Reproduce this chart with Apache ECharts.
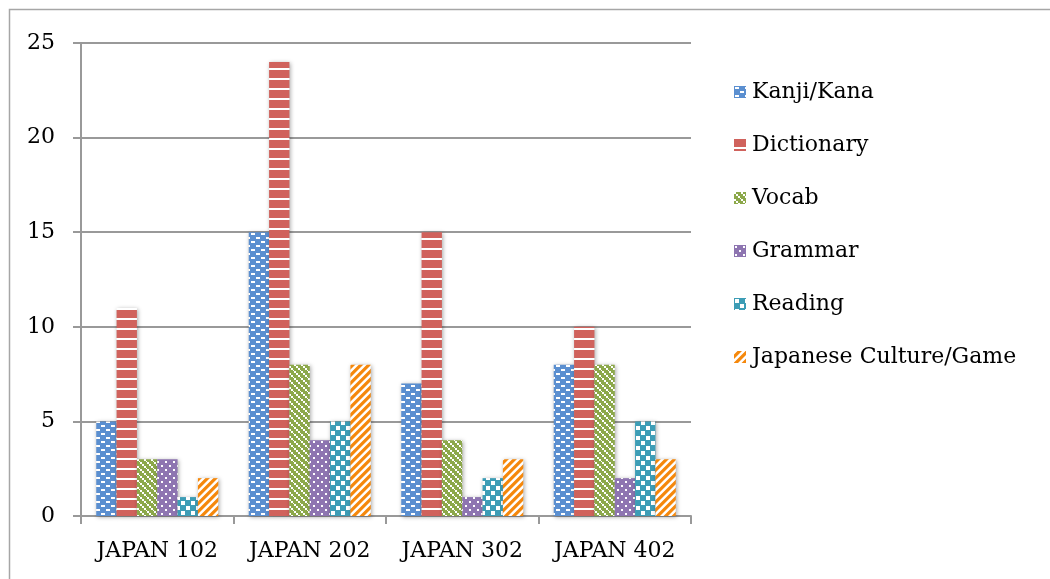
<!DOCTYPE html>
<html>
<head>
<meta charset="utf-8">
<script src="https://cdn.jsdelivr.net/npm/echarts@6/dist/echarts.min.js"></script>
<style>html,body{margin:0;padding:0;background:#fff}#c{width:1050px;height:579px}</style>
</head>
<body>
<div id="c"></div>
<script>
const categories = ['JAPAN 102', 'JAPAN 202', 'JAPAN 302', 'JAPAN 402'];
const seriesNames = ['Kanji/Kana', 'Dictionary', 'Vocab', 'Grammar', 'Reading', 'Japanese Culture/Game'];
const kanjiKana = [5, 15, 7, 8];
const dictionary = [11, 24, 15, 10];
const vocab = [3, 8, 4, 8];
const grammar = [3, 4, 1, 2];
const reading = [1, 5, 2, 5];
const culture = [2, 8, 3, 3];
const yTicks = [0, 5, 10, 15, 20, 25];

const FONT = 'DejaVu Serif';

function tile(w, h, bg, draw) {
  const c = document.createElement('canvas');
  c.width = w; c.height = h;
  const g = c.getContext('2d');
  g.fillStyle = bg; g.fillRect(0, 0, w, h);
  g.fillStyle = '#ffffff';
  draw(g, w, h);
  return { image: c, repeat: 'repeat' };
}
const patterns = [
  tile(10, 8, '#5b8fd0', g => { g.fillRect(1, 1, 4, 2); g.fillRect(6, 5, 4, 2); g.fillRect(-4, 5, 4, 2); }),
  tile(10, 10, '#d0625c', g => { g.fillRect(0, 8, 10, 2); }),
  tile(7, 7, '#8ca84a', g => { g.fillRect(0, 0, 2, 2); g.fillRect(2, 2, 2, 2); g.fillRect(4, 4, 2, 2); g.fillRect(6, 6, 1, 1); }),
  tile(8, 8, '#8e75b1', g => { g.fillRect(1, 1, 2, 2); g.fillRect(5, 5, 2, 2); }),
  tile(10, 10, '#3d9db6', g => { g.fillRect(1, 1, 4, 4); g.fillRect(6, 6, 4, 4); }),
  tile(8, 8, '#f5880c', g => {
    g.beginPath();
    for (let k = -1; k <= 1; k++) {
      const o = k * 8;
      g.moveTo(o + 0, 8); g.lineTo(o + 3.5, 8); g.lineTo(o + 11.5, 0); g.lineTo(o + 8, 0); g.closePath();
    }
    g.fill();
  })
];
const values = [kanjiKana, dictionary, vocab, grammar, reading, culture];

const chart = echarts.init(document.getElementById('c'), null, { renderer: 'canvas' });
chart.setOption({
  animation: false,
  backgroundColor: '#ffffff',
  graphic: [{
    type: 'rect', shape: { x: 9.5, y: 9.5, width: 1100, height: 700 },
    style: { fill: 'none', stroke: '#a6a6a6', lineWidth: 1.5 }, silent: true, z: -1
  }],
  grid: { left: 81, right: 359, top: 43, bottom: 63 },
  legend: {
    orient: 'vertical', left: 729, top: 76,
    itemWidth: 12, itemHeight: 12, itemGap: 31,
    icon: 'rect',
    textStyle: { fontFamily: FONT, fontSize: 22, color: '#000', lineHeight: 22, padding: [0, 0, 0, 1] },
    data: seriesNames
  },
  xAxis: {
    type: 'category', data: categories,
    axisLine: { lineStyle: { color: '#999', width: 2 } },
    axisTick: { show: true, interval: 0, length: 8, lineStyle: { color: '#999', width: 2 } },
    axisLabel: { interval: 0, fontFamily: FONT, fontSize: 22, color: '#000', margin: 24 }
  },
  yAxis: {
    type: 'value', min: 0, max: 25, interval: 5,
    axisLine: { show: true, lineStyle: { color: '#999', width: 2 } },
    axisTick: { show: true, length: 8, lineStyle: { color: '#999', width: 2 } },
    splitLine: { lineStyle: { color: '#999', width: 2 } },
    axisLabel: {
      fontFamily: FONT, fontSize: 22, color: '#000', margin: 26,
      formatter: v => yTicks.includes(v) ? String(v) : ''
    }
  },
  series: seriesNames.map((name, i) => ({
    name, type: 'bar', data: values[i],
    barGap: '0%', barCategoryGap: '20%',
    itemStyle: {
      color: patterns[i],
      shadowColor: 'rgba(0,0,0,0.35)', shadowBlur: 4, shadowOffsetX: 1, shadowOffsetY: 1
    }
  }))
});
</script>
</body>
</html>
